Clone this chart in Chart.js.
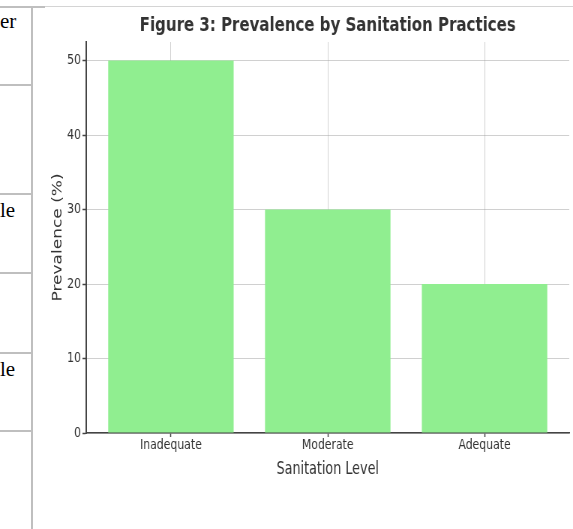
<!DOCTYPE html>
<html>
<head>
<meta charset="utf-8">
<title>Prevalence by Sanitation Practices</title>
<script src="https://cdn.jsdelivr.net/npm/chart.js@4.4.1/dist/chart.umd.min.js"></script>
<style>
  body { margin: 0; background: #fff; width: 573px; height: 529px; overflow: hidden; position: relative; }
  .rule { position: absolute; background: #bfbfbf; }
  .cell { position: absolute; left: 0; font-family: 'Liberation Serif', 'Times New Roman', serif; font-size: 21px; line-height: 21px; color: #000; }
  /* the figure is squeezed sideways, so the canvas is drawn wider and scaled down in x */
  #chart { position: absolute; left: 0; top: 0; transform: scaleX(0.75); transform-origin: 0 0; }
</style>
</head>
<body>
<!-- edge of the surrounding table -->
<div class="rule" style="left:0;top:6px;width:573px;height:1px;background:#d4d4d4"></div>
<div class="rule" style="left:0;top:6px;width:45px;height:2px"></div>
<div class="rule" style="left:31px;top:7px;width:2px;height:522px"></div>
<div class="rule" style="left:0;top:84px;width:32px;height:2px"></div>
<div class="rule" style="left:0;top:193px;width:32px;height:2px"></div>
<div class="rule" style="left:0;top:272px;width:32px;height:2px"></div>
<div class="rule" style="left:0;top:352px;width:32px;height:2px"></div>
<div class="rule" style="left:0;top:430px;width:32px;height:2px"></div>
<div class="cell" style="top:11px">er</div>
<div class="cell" style="top:200px">le</div>
<div class="cell" style="top:359px">le</div>

<canvas id="chart" width="764" height="529"></canvas>

<script>
const categories = ['Inadequate', 'Moderate', 'Adequate'];
const prevalence = [50, 30, 20];
const yTicks = [0, 10, 20, 30, 40, 50];
const chartTitle = 'Figure 3: Prevalence by Sanitation Practices';

const family = "'DejaVu Sans', Verdana, sans-serif";
const textColor = '#333333';
const gridColor = 'rgba(150, 150, 150, 0.45)';
const axisColor = '#444444';

// title centred over the plot area rather than the whole canvas
const titlePlugin = {
  id: 'figureTitle',
  afterDraw(chart) {
    const { ctx, chartArea } = chart;
    ctx.save();
    ctx.font = 'bold 20px ' + family;
    ctx.fillStyle = textColor;
    ctx.textAlign = 'center';
    ctx.textBaseline = 'middle';
    ctx.fillText(chartTitle, (chartArea.left + chartArea.right) / 2, chartArea.top - 16);
    ctx.restore();
  }
};

new Chart(document.getElementById('chart'), {
  type: 'bar',
  data: {
    datasets: [{
      data: prevalence.map((v, i) => ({ x: i, y: v })),
      backgroundColor: '#90ee90',
      barPercentage: 0.8,
      categoryPercentage: 1
    }]
  },
  options: {
    responsive: false,
    animation: false,
    devicePixelRatio: 1,
    layout: { padding: { top: 42, right: 5, left: 0, bottom: 0 } },
    plugins: {
      legend: { display: false },
      tooltip: { enabled: false }
    },
    scales: {
      x: {
        type: 'linear',
        min: -0.54,
        max: 2.54,
        offset: false,
        z: 1,
        afterBuildTicks: s => { s.ticks = categories.map((c, i) => ({ value: i })); },
        afterFit: s => { s.height = 96; },
        ticks: {
          callback: v => categories[v],
          color: textColor,
          font: { family: family, size: 14.5 },
          padding: 0,
          maxRotation: 0,
          autoSkip: false
        },
        grid: {
          offset: false,
          color: gridColor,
          borderDash: [1.5, 1.5],
          tickColor: axisColor,
          tickLength: 4,
          tickWidth: 1.5,
          tickBorderDash: []
        },
        border: { color: axisColor, width: 1.5 },
        title: {
          display: true,
          text: 'Sanitation Level',
          color: textColor,
          font: { family: family, size: 17 },
          padding: { top: 0, bottom: 49 }
        }
      },
      y: {
        min: 0,
        max: 52.5,
        z: 1,
        afterBuildTicks: s => { s.ticks = yTicks.map(v => ({ value: v })); },
        afterFit: s => { s.width = 115; },
        ticks: {
          color: textColor,
          font: { family: family, size: 14.5 },
          padding: 2
        },
        grid: {
          color: gridColor,
          borderDash: [1.5, 1.5],
          tickColor: axisColor,
          tickLength: 5,
          tickWidth: 1.5,
          tickBorderDash: []
        },
        border: { color: axisColor, width: 2 },
        title: {
          display: true,
          text: 'Prevalence (%)',
          color: textColor,
          font: { family: family, size: 17 },
          padding: { top: 67, bottom: 0 }
        }
      }
    }
  },
  plugins: [titlePlugin]
});
</script>
</body>
</html>
